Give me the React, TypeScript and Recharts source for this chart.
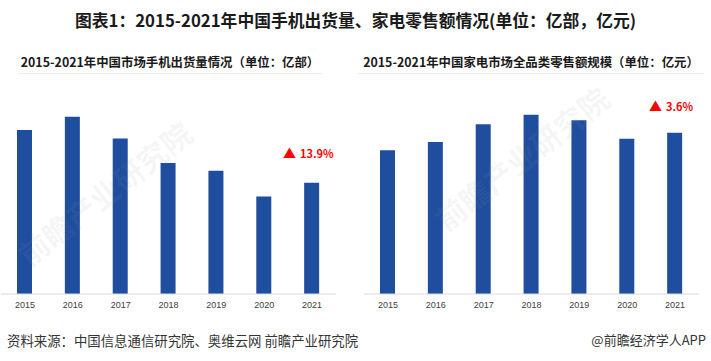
import React from "react";
import { BarChart, Bar, XAxis, YAxis } from "recharts";

const years = ["2015", "2016", "2017", "2018", "2019", "2020", "2021"];
const phoneShipments = [5.18, 5.6, 4.91, 4.14, 3.89, 3.08, 3.51];
const applianceRetail = [6740, 7120, 7960, 8400, 8150, 7280, 7556];

const mainTitle = "图表1：2015-2021年中国手机出货量、家电零售额情况(单位：亿部，亿元)";
const leftTitle = "2015-2021年中国市场手机出货量情况（单位：亿部）";
const rightTitle = "2015-2021年中国家电市场全品类零售额规模（单位：亿元）";
const leftGrowth = "13.9%";
const rightGrowth = "3.6%";
const sourceText = "资料来源：中国信息通信研究院、奥维云网 前瞻产业研究院";
const brandText = "@前瞻经济学人APP";

const phoneData = years.map((y, i) => ({ year: y, value: phoneShipments[i] }));
const retailData = years.map((y, i) => ({ year: y, value: applianceRetail[i] }));

const BAR = "#1f4e9f";
const FONT = "'Noto Sans CJK SC', 'Noto Sans', sans-serif";
const TICK_FONT = "'Liberation Sans', Arial, sans-serif";

const tickStyle = { fontSize: 9, fill: "#404040", fontFamily: TICK_FONT };

function Growth({ left, top, text }: { left: number; top: number; text: string }) {
  return (
    <div
      style={{
        position: "absolute",
        left,
        top,
        color: "#ff0000",
        fontFamily: FONT,
        fontWeight: 700,
        fontSize: 11,
        lineHeight: "14px",
        whiteSpace: "nowrap",
      }}
    >
      <span style={{ fontSize: 13, marginRight: 4 }}>▲</span>
      {text}
    </div>
  );
}

function SubTitle({ left, width, text }: { left: number; width: number; text: string }) {
  return (
    <div
      style={{
        position: "absolute",
        left,
        top: 53,
        width,
        height: 20,
        textAlign: "center",
        fontFamily: FONT,
        fontWeight: 700,
        fontSize: 12.4,
        lineHeight: "18px",
        color: "#1a1a1a",
        whiteSpace: "nowrap",
        borderBottom: "1px solid #ececec",
      }}
    >
      {text}
    </div>
  );
}

function Watermark({ left, top }: { left: number; top: number }) {
  return (
    <div
      style={{
        position: "absolute",
        left,
        top,
        transform: "rotate(-38deg)",
        transformOrigin: "left top",
        color: "rgba(150,150,150,0.09)",
        fontFamily: FONT,
        fontWeight: 700,
        fontSize: 30,
        whiteSpace: "nowrap",
        pointerEvents: "none",
      }}
    >
      前瞻产业研究院
    </div>
  );
}

export default function App() {
  return (
    <div
      style={{
        position: "absolute",
        left: 0,
        top: 0,
        width: 711,
        height: 361,
        background: "#ffffff",
        overflow: "hidden",
        fontFamily: FONT,
      }}
    >
      <div
        style={{
          position: "absolute",
          left: 0,
          top: 8,
          width: 711,
          textAlign: "center",
          fontSize: 16.8,
          fontWeight: 700,
          color: "#1a1a1a",
          lineHeight: "24px",
          whiteSpace: "nowrap",
        }}
      >
        {mainTitle}
      </div>

      <SubTitle left={18} width={304} text={leftTitle} />
      <SubTitle left={358} width={346} text={rightTitle} />

      <div style={{ position: "absolute", left: 0, top: 0 }}>
        <BarChart
          width={336}
          height={330}
          data={phoneData}
          margin={{ top: 104, right: 0, bottom: 6, left: 1 }}
          style={{ fontFamily: TICK_FONT }}
        >
          <XAxis
            dataKey="year"
            axisLine={{ stroke: "#d9d9d9" }}
            tickLine={false}
            tick={tickStyle}
            height={30}
            interval={0}
          />
          <YAxis hide domain={[0, 6]} />
          <Bar dataKey="value" fill={BAR} barSize={15} isAnimationActive={false} />
        </BarChart>
      </div>

      <div style={{ position: "absolute", left: 364, top: 0 }}>
        <BarChart
          width={335}
          height={330}
          data={retailData}
          margin={{ top: 102, right: 0, bottom: 6, left: 0 }}
          style={{ fontFamily: TICK_FONT }}
        >
          <XAxis
            dataKey="year"
            axisLine={{ stroke: "#d9d9d9" }}
            tickLine={false}
            tick={tickStyle}
            height={30}
            interval={0}
          />
          <YAxis hide domain={[0, 9000]} />
          <Bar dataKey="value" fill={BAR} barSize={15} isAnimationActive={false} />
        </BarChart>
      </div>

      <Watermark left={8} top={240} />
      <Watermark left={425} top={205} />

      <Growth left={283} top={146} text={leftGrowth} />
      <Growth left={649} top={99} text={rightGrowth} />

      <div
        style={{
          position: "absolute",
          left: 7,
          top: 331,
          fontSize: 13.4,
          color: "#333333",
          lineHeight: "18px",
          whiteSpace: "nowrap",
        }}
      >
        {sourceText}
      </div>
      <div
        style={{
          position: "absolute",
          right: 5,
          top: 331,
          fontSize: 13,
          color: "#333333",
          lineHeight: "18px",
          whiteSpace: "nowrap",
        }}
      >
        {brandText}
      </div>
    </div>
  );
}
